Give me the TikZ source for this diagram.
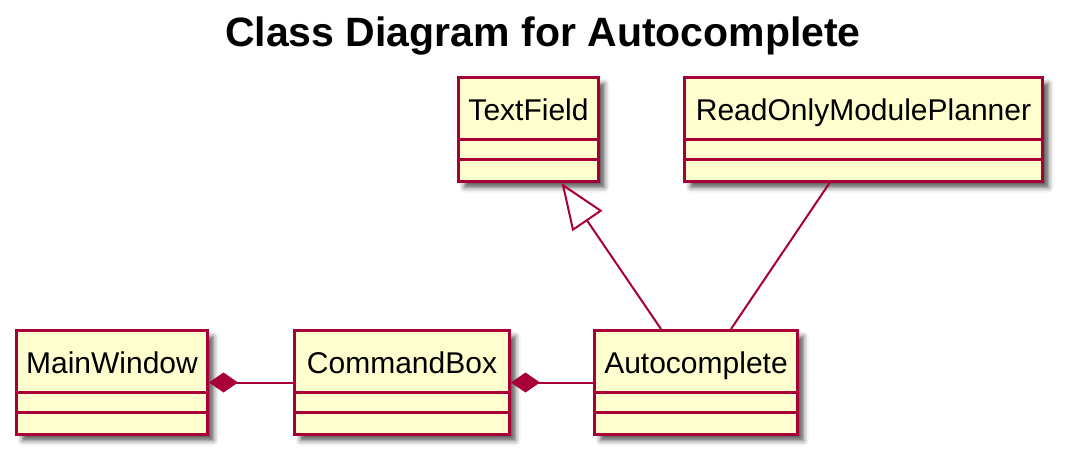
\documentclass[tikz,border=0pt]{standalone}
\usepackage{fontspec}
\setmainfont{Liberation Sans}
\usetikzlibrary{arrows.meta, shadows.blur}
\definecolor{umlred}{HTML}{A80036}
\definecolor{umlfill}{HTML}{FEFECE}
\tikzset{
  classbox/.style={draw=umlred, fill=umlfill, line width=3pt, anchor=north west,
    minimum height=104pt, inner sep=0pt,
    blur shadow={shadow xshift=6pt, shadow yshift=-6pt, shadow blur radius=5pt, shadow opacity=65}},
  classname/.style={anchor=base, font=\fontsize{30}{36}\selectfont},
  sepline/.style={draw=umlred, line width=3pt},
  relation/.style={draw=umlred, line width=2pt},
}

\begin{document}
\begin{tikzpicture}[x=1pt, y=-1pt]
\useasboundingbox (0,0) rectangle (1066,456);

% title
\node[font=\fontsize{41}{48}\selectfont\bfseries, anchor=base] (title) at (543,46) {Class Diagram for Autocomplete};

% classes
\foreach \id/\x/\y/\w/\txt in {textfield/457/76/140/TextField,
    planner/683/76/358/ReadOnlyModulePlanner,
    mainwindow/15/329/191/MainWindow,
    commandbox/293/329/215/CommandBox,
    autocomplete/593/329/203/Autocomplete}{
  \node[classbox, minimum width=\w] (\id) at (\x,\y) {};
  \node[classname] (\id-name) at ([yshift=-44]\id.north) {\txt};
  \draw[sepline] ([yshift=-63]\id.north west) -- ([yshift=-63]\id.north east);
  \draw[sepline] ([yshift=-83]\id.north west) -- ([yshift=-83]\id.north east);
}

% composition
\draw[relation, {Diamond[length=29pt, width=20pt]}-] (mainwindow.east) -- (commandbox.west);
\draw[relation, {Diamond[length=29pt, width=20pt]}-] (commandbox.east) -- (autocomplete.west);

% inheritance and association
\draw[relation, -{Triangle[open, length=46pt, width=36pt]}] ([xshift=-35]autocomplete.north) -- ([xshift=33]textfield.south);
\draw[relation] ([xshift=35]autocomplete.north) -- ([xshift=-34]planner.south);
\end{tikzpicture}
\end{document}
